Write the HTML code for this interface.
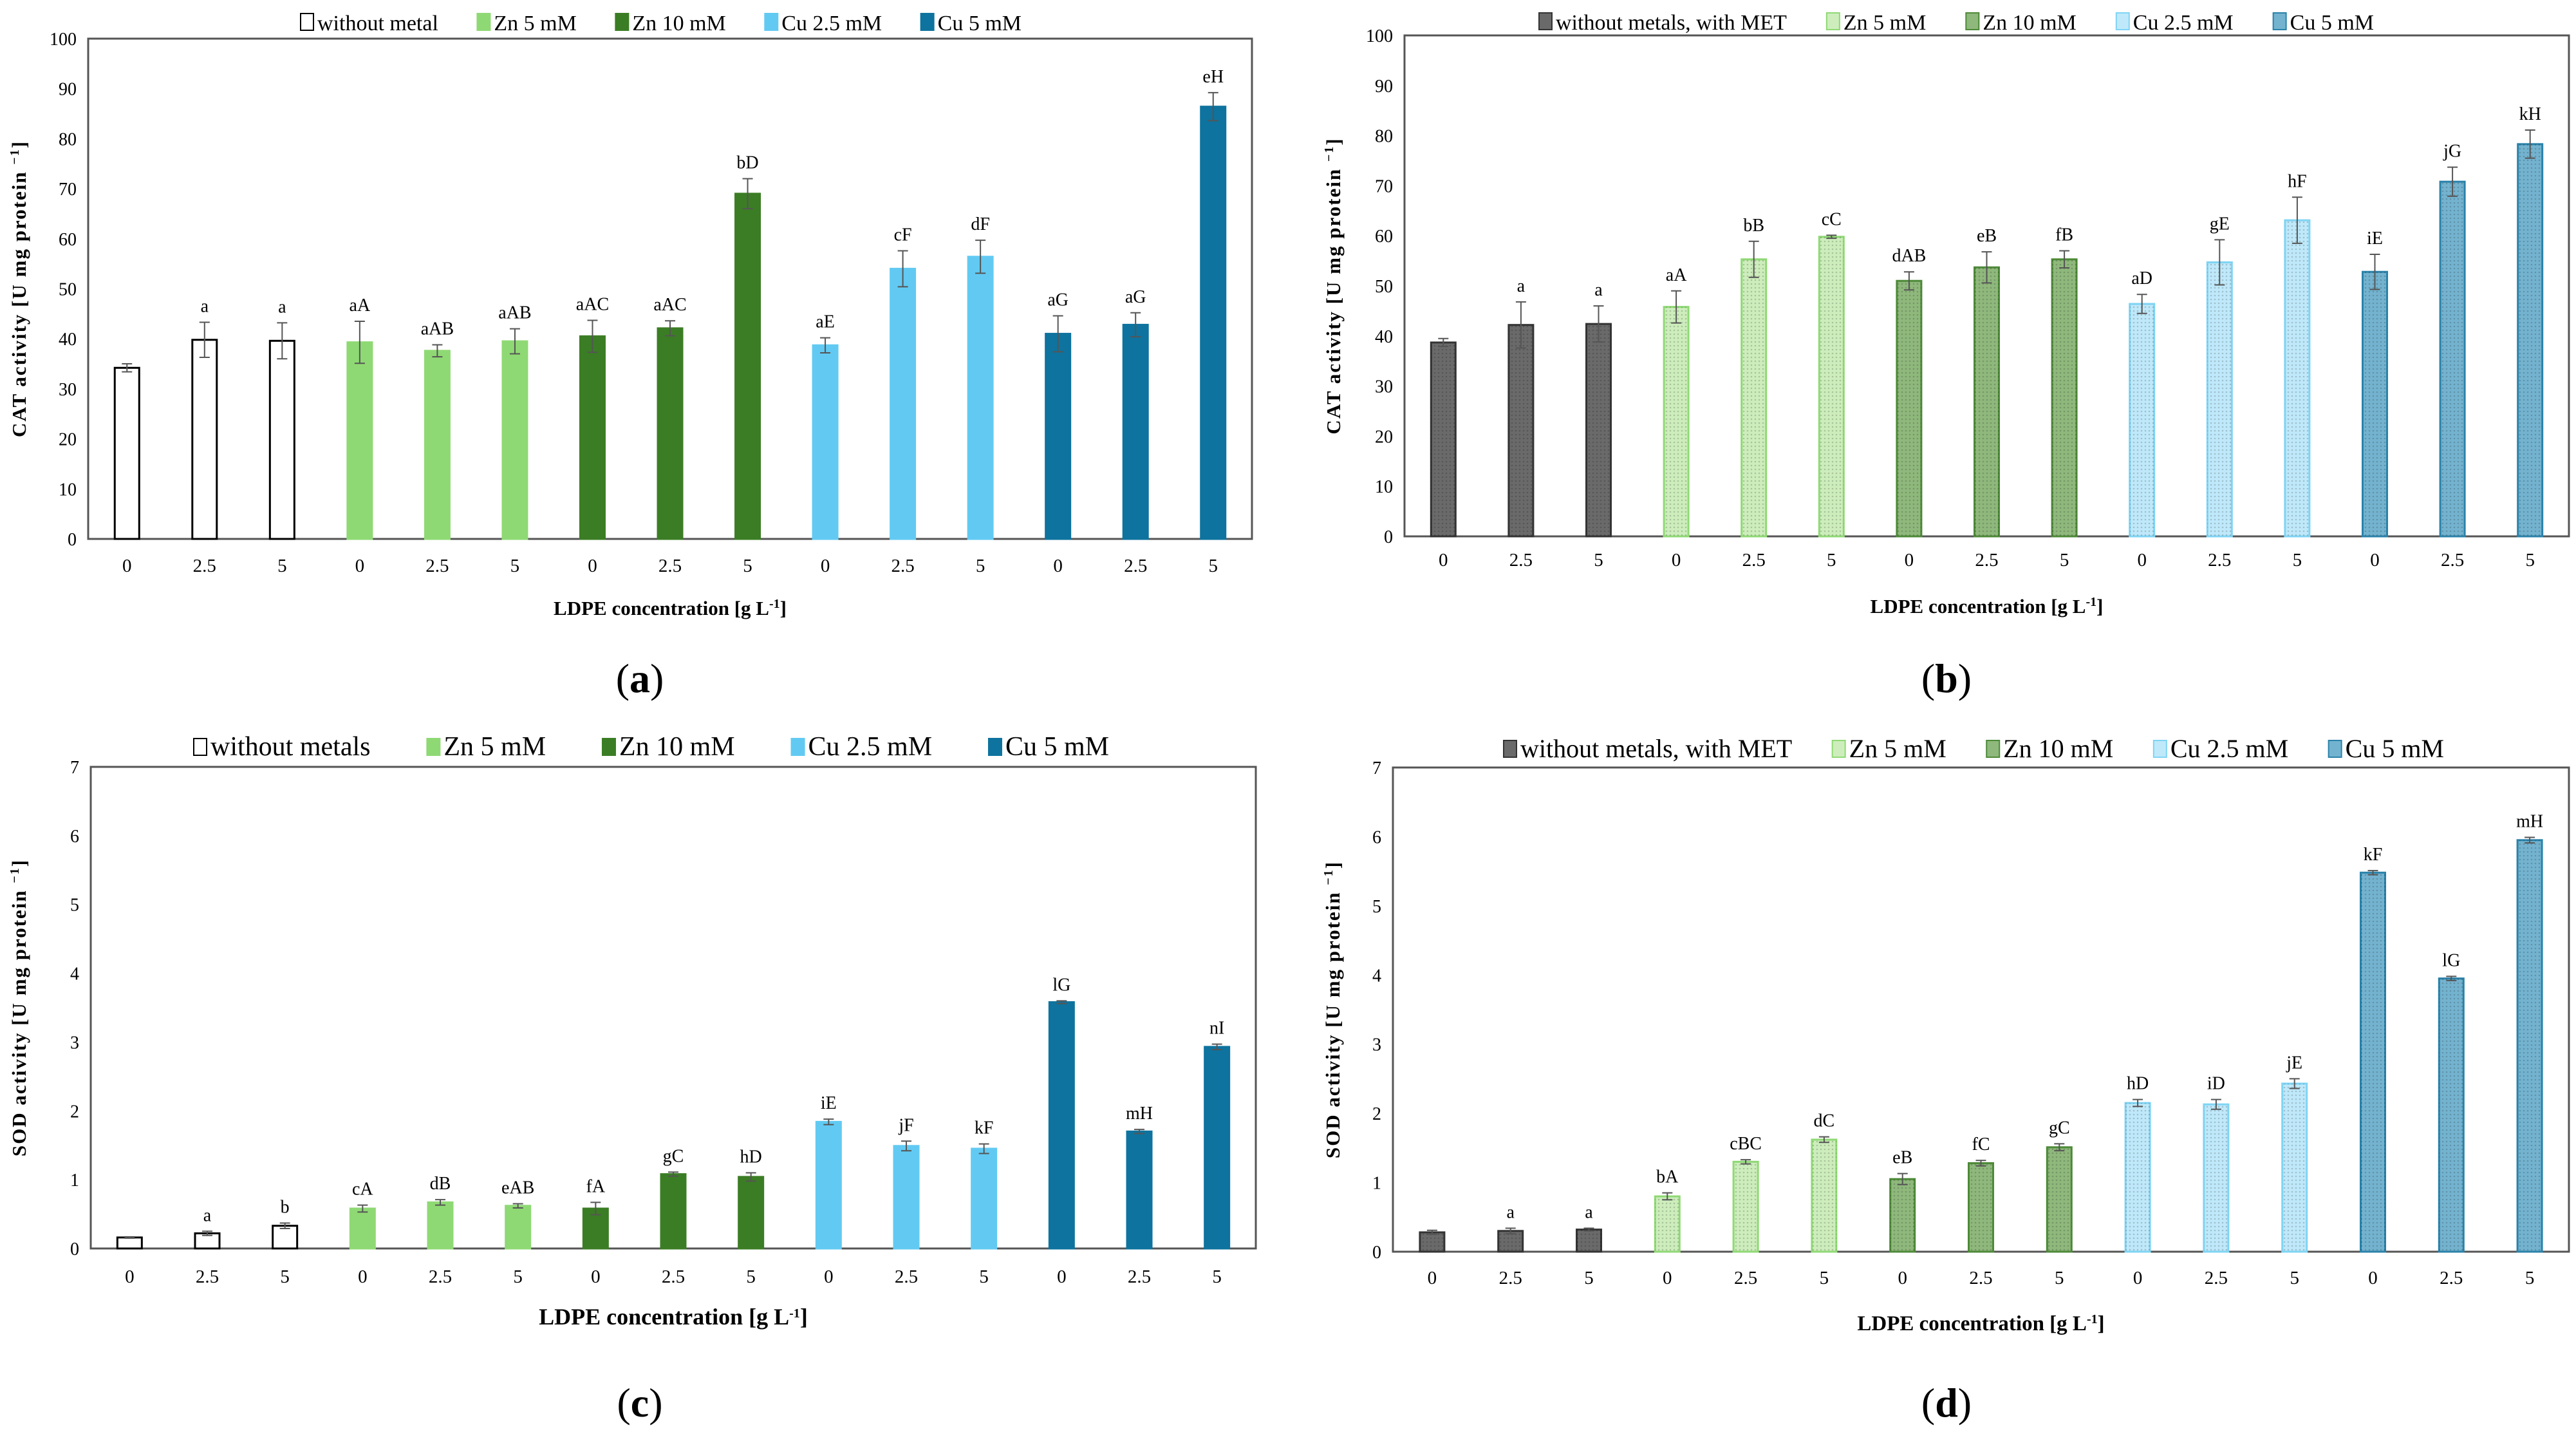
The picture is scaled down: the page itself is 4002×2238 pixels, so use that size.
<!DOCTYPE html>
<html><head><meta charset="utf-8">
<style>
html,body{margin:0;padding:0;background:#fff;}
svg, svg text{font-family:"Liberation Serif","DejaVu Serif",serif;}
</style></head>
<body>
<svg id="fig" width="4002" height="2233" viewBox="0 0 4002 2233" xmlns="http://www.w3.org/2000/svg" font-family="Liberation Serif, serif">
<defs>
<pattern id="dots" width="6" height="6" patternUnits="userSpaceOnUse"><rect width="6" height="6" fill="none"/><circle cx="3" cy="3" r="1.3" fill="rgba(0,0,0,0.18)"/></pattern>
</defs>
</svg>
<script>
const cats = ["0","2.5","5","0","2.5","5","0","2.5","5","0","2.5","5","0","2.5","5"];
const groups = [0,0,0,1,1,1,2,2,2,3,3,3,4,4,4];
// Panel a: CAT without MET
const aValues = [34.2,39.8,39.6,39.3,37.6,39.5,40.5,42.1,69.0,38.7,54.0,56.4,41.0,42.8,86.4];
const aErrors = [0.8,3.5,3.6,4.2,1.2,2.5,3.2,1.5,3.0,1.5,3.6,3.3,3.6,2.4,2.8];
const aLabels = ["","a","a","aA","aAB","aAB","aAC","aAC","bD","aE","cF","dF","aG","aG","eH"];
const aTicks = [0,10,20,30,40,50,60,70,80,90,100];
const aLegend = ["without metal","Zn 5 mM","Zn 10 mM","Cu 2.5 mM","Cu 5 mM"];
// Panel b: CAT with MET
const bValues = [38.7,42.2,42.4,45.8,55.3,59.8,51.0,53.7,55.3,46.4,54.7,63.1,52.8,70.8,78.3];
const bErrors = [0.8,4.6,3.6,3.2,3.6,0.3,1.8,3.1,1.7,1.9,4.5,4.6,3.5,2.9,2.8];
const bLabels = ["","a","a","aA","bB","cC","dAB","eB","fB","aD","gE","hF","iE","jG","kH"];
const bTicks = [0,10,20,30,40,50,60,70,80,90,100];
const bLegend = ["without metals, with MET","Zn 5 mM","Zn 10 mM","Cu 2.5 mM","Cu 5 mM"];
// Panel c: SOD without MET
const cValues = [0.16,0.22,0.33,0.58,0.67,0.62,0.58,1.08,1.04,1.84,1.49,1.45,3.58,1.70,2.93];
const cErrors = [0.01,0.03,0.04,0.05,0.04,0.03,0.09,0.03,0.06,0.04,0.07,0.07,0.02,0.03,0.04];
const cLabels = ["","a","b","cA","dB","eAB","fA","gC","hD","iE","jF","kF","lG","mH","nI"];
const cTicks = [0,1,2,3,4,5,6,7];
const cLegend = ["without metals","Zn 5 mM","Zn 10 mM","Cu 2.5 mM","Cu 5 mM"];
// Panel d: SOD with MET
const dValues = [0.28,0.30,0.32,0.80,1.30,1.62,1.05,1.28,1.51,2.15,2.13,2.43,5.48,3.95,5.95];
const dErrors = [0.03,0.04,0.02,0.05,0.03,0.04,0.08,0.04,0.05,0.05,0.07,0.07,0.03,0.03,0.04];
const dLabels = ["","a","a","bA","cBC","dC","eB","fC","gC","hD","iD","jE","kF","lG","mH"];
const dTicks = [0,1,2,3,4,5,6,7];
const dLegend = ["without metals, with MET","Zn 5 mM","Zn 10 mM","Cu 2.5 mM","Cu 5 mM"];

const solidFill = ["#ffffff","#8fd974","#3b7d24","#62caf2","#0e739e"];
const solidStroke = ["#000000","#8fd974","#3b7d24","#62caf2","#0e739e"];
const patFill = ["#6a6a6a","#cdeebc","#8fb87c","#bfe9fa","#74b3cf"];
const patStroke = ["#333333","#8fd974","#4d8a38","#7fd4f4","#2a82aa"];

const svg = document.getElementById('fig');
const NS = "http://www.w3.org/2000/svg";
const FF = '"Liberation Serif", serif';
function mk(tag, attrs, parent){
  const e = document.createElementNS(NS, tag);
  for (const k in attrs) e.setAttribute(k, attrs[k]);
  if (tag === 'text') e.style.fontFamily = FF;
  (parent||svg).appendChild(e);
  return e;
}

function panel(cfg){
  const g = mk('g', {});
  
  
  const L = cfg.left, R = cfg.right, T = cfg.top, B = cfg.bottom;
  const maxV = cfg.ticks[cfg.ticks.length-1];
  const yS = v => B - (v/maxV)*(B-T);
  const step = (R-L)/cats.length;
  const xS = i => L + step*(i+0.5);
  const bw = 38;
  const fr = mk('rect', {x:L, y:T, width:R-L, height:B-T, fill:'none', stroke:'#555', 'stroke-width':3}, g);
  
  
  cfg.ticks.forEach(t => {
    const tx = mk('text', {x:L-18, y:yS(t)+10, 'text-anchor':'end', 'font-size':28, fill:'#000'}, g);
    tx.textContent = t;
    
    
  });
  cfg.values.forEach((v,i) => {
    const gi = groups[i];
    const x = xS(i) - bw/2;
    const fill = cfg.pattern ? patFill[gi] : solidFill[gi];
    const stroke = cfg.pattern ? patStroke[gi] : solidStroke[gi];
    const r = mk('rect', {x:x, y:yS(v), width:bw, height:B-yS(v), fill:fill, stroke:stroke, 'stroke-width':3}, g);
    
    
    if (cfg.pattern){
      const p = mk('rect', {x:x, y:yS(v), width:bw, height:B-yS(v), fill:'url(#dots)'}, g);
      
      
    }
    const e = cfg.errors[i];
    const cx = xS(i);
    const eb = mk('path', {d:`M${cx},${yS(v+e)}V${yS(v-e)}M${cx-8},${yS(v+e)}H${cx+8}M${cx-8},${yS(v-e)}H${cx+8}`, stroke:'#555', 'stroke-width':2, fill:'none'}, g);
    
    
    if (cfg.labels[i]){
      const lt = mk('text', {x:cx, y:yS(v+e)-16, 'text-anchor':'middle', 'font-size':28}, g);
      lt.textContent = cfg.labels[i];
      
      
    }
    const xt = mk('text', {x:cx, y:cfg.xTickY, 'text-anchor':'middle', 'font-size':29}, g);
    xt.textContent = cats[i];
    
    
  });
  const xtl = mk('text', {x:(L+R)/2, y:cfg.xTitleY, 'text-anchor':'middle', 'font-size':cfg.xTitleFont, 'font-weight':'bold'}, g);
  xtl.innerHTML = 'LDPE concentration [g L<tspan baseline-shift="super" font-size="20">-1</tspan>]';
  
  
  const ytl = mk('text', {x:0, y:0, 'text-anchor':'middle', 'font-size':31, 'font-weight':'bold', 'letter-spacing':'2', transform:`translate(${cfg.yTitleX},${(T+B)/2}) rotate(-90)`}, g);
  ytl.innerHTML = cfg.yTitle + ' [U mg protein <tspan baseline-shift="super" font-size="20">−1</tspan>]';
  
  
  // legend: measure, then spread evenly between legX and legEnd
  const items = [];
  let total = 0;
  cfg.legend.forEach((name,k) => {
    const fill = cfg.pattern ? patFill[k] : solidFill[k];
    const stroke = cfg.pattern ? patStroke[k] : solidStroke[k];
    const sw = mk('rect', {x:0, y:cfg.legY-15, width:20, height:26, fill:fill, stroke:stroke, 'stroke-width':2}, g);
    
    
    const lt = mk('text', {x:0, y:cfg.legY+11, 'font-size':cfg.legFont}, g);
    lt.textContent = name;
    
    
    const w = 26 + lt.getComputedTextLength();
    total += w;
    items.push([sw, lt, w]);
  });
  const gap = Math.max(10, (cfg.legEnd - cfg.legX - total) / (items.length - 1));
  let lx = cfg.legX;
  items.forEach(([sw, lt, w]) => {
    sw.setAttribute('x', lx);
    lt.setAttribute('x', lx + 26);
    lx += w + gap;
  });
  const pl = mk('text', {x:cfg.tagX, y:cfg.tagY, 'text-anchor':'middle', 'font-size':64}, g);
  pl.innerHTML = '(<tspan font-weight="bold">' + cfg.tag + '</tspan>)';
  
  
}

panel({id:'a', values:aValues, errors:aErrors, labels:aLabels, ticks:aTicks, legend:aLegend, pattern:false,
  left:137, right:1945, top:60, bottom:837, xTickY:888, xTitleY:955, xTitleFont:31, yTitleX:40, yTitle:'CAT activity',
  legX:467, legEnd:1587, legY:36, legFont:34, tag:'a', tagX:994, tagY:1075});
panel({id:'b', values:bValues, errors:bErrors, labels:bLabels, ticks:bTicks, legend:bLegend, pattern:true,
  left:2182, right:3991, top:55, bottom:833, xTickY:879, xTitleY:952, xTitleFont:31, yTitleX:2082, yTitle:'CAT activity',
  legX:2391, legEnd:3688, legY:35, legFont:34, tag:'b', tagX:3024, tagY:1075});
panel({id:'c', values:cValues, errors:cErrors, labels:cLabels, ticks:cTicks, legend:cLegend, pattern:false,
  left:141, right:1951, top:1191, bottom:1939, xTickY:1992, xTitleY:2057, xTitleFont:36, yTitleX:40, yTitle:'SOD  activity',
  legX:301, legEnd:1723, legY:1162, legFont:42, tag:'c', tagX:994, tagY:2200});
panel({id:'d', values:dValues, errors:dErrors, labels:dLabels, ticks:dTicks, legend:dLegend, pattern:true,
  left:2164, right:3991, top:1192, bottom:1944, xTickY:1994, xTitleY:2066, xTitleFont:33, yTitleX:2081, yTitle:'SOD  activity',
  legX:2336, legEnd:3797, legY:1165, legFont:40, tag:'d', tagX:3024, tagY:2200});
</script>
</body></html>
